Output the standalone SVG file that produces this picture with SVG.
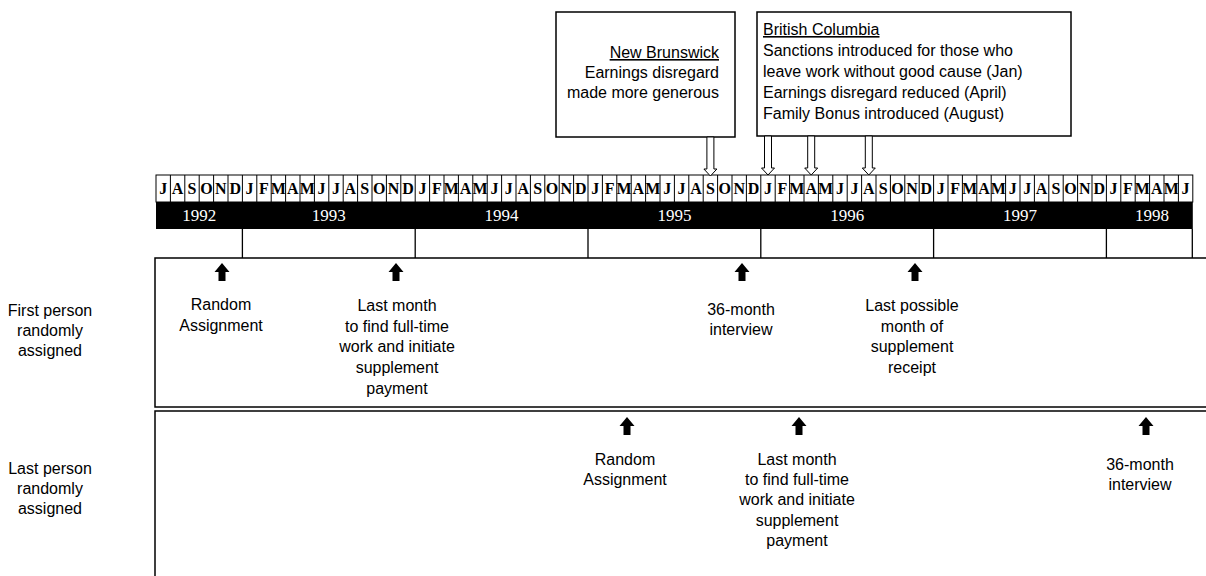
<svg xmlns="http://www.w3.org/2000/svg" width="1206" height="576" viewBox="0 0 1206 576">
<defs>
<style>
.t{font-family:"Liberation Sans",Arial,sans-serif;font-size:16px;fill:#000}
.c{text-anchor:middle}
.r{text-anchor:end}
.mo{font-family:"Liberation Serif","Times New Roman",serif;font-size:16px;font-weight:bold;fill:#000;text-anchor:middle}
.yr{font-family:"Liberation Serif","Times New Roman",serif;font-size:17px;fill:#fff;text-anchor:middle}
.box{fill:#fff;stroke:#000;stroke-width:1.5}
.ln{stroke:#000;stroke-width:1.3;fill:none}
.hollow{fill:#fff;stroke:#000;stroke-width:1}
</style>
<path id="up" d="M0,0 L7.5,9 L3.5,9 L3.5,18 L-3.5,18 L-3.5,9 L-7.5,9 Z" fill="#000"/>
<path id="down" d="M-3.5,0 L3.5,0 L3.5,32 L6.5,32 L0,39 L-6.5,32 L-3.5,32 Z" class="hollow"/>
</defs>
<rect width="1206" height="576" fill="#fff"/>

<g id="nb-box">
<rect x="556" y="12" width="179" height="125" class="box"/>
<text class="t r" x="719" y="58" text-decoration="underline">New Brunswick</text>
<text class="t r" x="719" y="78">Earnings disregard</text>
<text class="t r" x="719" y="98">made more generous</text>
</g>

<g id="bc-box">
<rect x="757" y="12" width="314" height="124" class="box"/>
<text class="t" x="763" y="35" text-decoration="underline">British Columbia</text>
<text class="t" x="763" y="56">Sanctions introduced for those who</text>
<text class="t" x="763" y="77">leave work without good cause (Jan)</text>
<text class="t" x="763" y="98">Earnings disregard reduced (April)</text>
<text class="t" x="763" y="119">Family Bonus introduced (August)</text>
</g>

<g id="timeline">
<rect x="156" y="175" width="1036.8" height="27" fill="#fff" stroke="#000" stroke-width="1"/>
<path stroke="#000" stroke-width="1" d="M170.4,175V202M184.8,175V202M199.2,175V202M213.6,175V202M228,175V202M242.4,175V202M256.8,175V202M271.2,175V202M285.6,175V202M300,175V202M314.4,175V202M328.8,175V202M343.2,175V202M357.6,175V202M372,175V202M386.4,175V202M400.8,175V202M415.2,175V202M429.6,175V202M444,175V202M458.4,175V202M472.8,175V202M487.2,175V202M501.6,175V202M516,175V202M530.4,175V202M544.8,175V202M559.2,175V202M573.6,175V202M588,175V202M602.4,175V202M616.8,175V202M631.2,175V202M645.6,175V202M660,175V202M674.4,175V202M688.8,175V202M703.2,175V202M717.6,175V202M732,175V202M746.4,175V202M760.8,175V202M775.2,175V202M789.6,175V202M804,175V202M818.4,175V202M832.8,175V202M847.2,175V202M861.6,175V202M876,175V202M890.4,175V202M904.8,175V202M919.2,175V202M933.6,175V202M948,175V202M962.4,175V202M976.8,175V202M991.2,175V202M1005.6,175V202M1020,175V202M1034.4,175V202M1048.8,175V202M1063.2,175V202M1077.6,175V202M1092,175V202M1106.4,175V202M1120.8,175V202M1135.2,175V202M1149.6,175V202M1164,175V202M1178.4,175V202"/>
<text class="mo" y="194" x="163.2 177.6 192 206.4 220.8 235.2 249.6 264 278.4 292.8 307.2 321.6 336 350.4 364.8 379.2 393.6 408 422.4 436.8 451.2 465.6 480 494.4 508.8 523.2 537.6 552 566.4 580.8 595.2 609.6 624 638.4 652.8 667.2 681.6 696 710.4 724.8 739.2 753.6 768 782.4 796.8 811.2 825.6 840 854.4 868.8 883.2 897.6 912 926.4 940.8 955.2 969.6 984 998.4 1012.8 1027.2 1041.6 1056 1070.4 1084.8 1099.2 1113.6 1128 1142.4 1156.8 1171.2 1185.6">JASONDJFMAMJJASONDJFMAMJJASONDJFMAMJJASONDJFMAMJJASONDJFMAMJJASONDJFMAMJ</text>
<rect x="156" y="202" width="1036.8" height="27" fill="#000"/>
<text class="yr" x="199.2" y="221">1992</text>
<text class="yr" x="328.8" y="221">1993</text>
<text class="yr" x="501.6" y="221">1994</text>
<text class="yr" x="674.4" y="221">1995</text>
<text class="yr" x="847.2" y="221">1996</text>
<text class="yr" x="1020" y="221">1997</text>
<text class="yr" x="1152" y="221">1998</text>
<path class="ln" d="M242.4,229V258M415.2,229V258M588,229V258M760.8,229V258M933.6,229V258M1106.4,229V258M1192.3,229V258"/>
</g>

<g id="connectors">
<use href="#down" x="710.4" y="137"/>
<use href="#down" x="768" y="136"/>
<use href="#down" x="811.2" y="136"/>
<use href="#down" x="868.8" y="136"/>
</g>

<g id="first-row">
<rect x="155" y="258" width="1100" height="149" class="box"/>
<text class="t c" x="50" y="316">First person</text>
<text class="t c" x="50" y="336">randomly</text>
<text class="t c" x="50" y="356">assigned</text>
</g>
<g id="first-ra">
<use href="#up" x="222" y="263"/>
<text class="t c" x="221" y="310">Random</text>
<text class="t c" x="221" y="331">Assignment</text>
</g>
<g id="first-last-month">
<use href="#up" x="396" y="263"/>
<text class="t c" x="397" y="311">Last month</text>
<text class="t c" x="397" y="332">to find full-time</text>
<text class="t c" x="397" y="352">work and initiate</text>
<text class="t c" x="397" y="373">supplement</text>
<text class="t c" x="397" y="394">payment</text>
</g>
<g id="first-36">
<use href="#up" x="742" y="263"/>
<text class="t c" x="741" y="315">36-month</text>
<text class="t c" x="741" y="335">interview</text>
</g>
<g id="first-last-possible">
<use href="#up" x="915" y="263"/>
<text class="t c" x="912" y="311">Last possible</text>
<text class="t c" x="912" y="332">month of</text>
<text class="t c" x="912" y="352">supplement</text>
<text class="t c" x="912" y="373">receipt</text>
</g>

<g id="last-row">
<rect x="155" y="411" width="1100" height="200" class="box"/>
<text class="t c" x="50" y="474">Last person</text>
<text class="t c" x="50" y="494">randomly</text>
<text class="t c" x="50" y="514">assigned</text>
</g>
<g id="last-ra">
<use href="#up" x="627" y="417"/>
<text class="t c" x="625" y="465">Random</text>
<text class="t c" x="625" y="485">Assignment</text>
</g>
<g id="last-last-month">
<use href="#up" x="799" y="417"/>
<text class="t c" x="797" y="465">Last month</text>
<text class="t c" x="797" y="485">to find full-time</text>
<text class="t c" x="797" y="505">work and initiate</text>
<text class="t c" x="797" y="526">supplement</text>
<text class="t c" x="797" y="546">payment</text>
</g>
<g id="last-36">
<use href="#up" x="1146" y="417"/>
<text class="t c" x="1140" y="470">36-month</text>
<text class="t c" x="1140" y="490">interview</text>
</g>
</svg>
